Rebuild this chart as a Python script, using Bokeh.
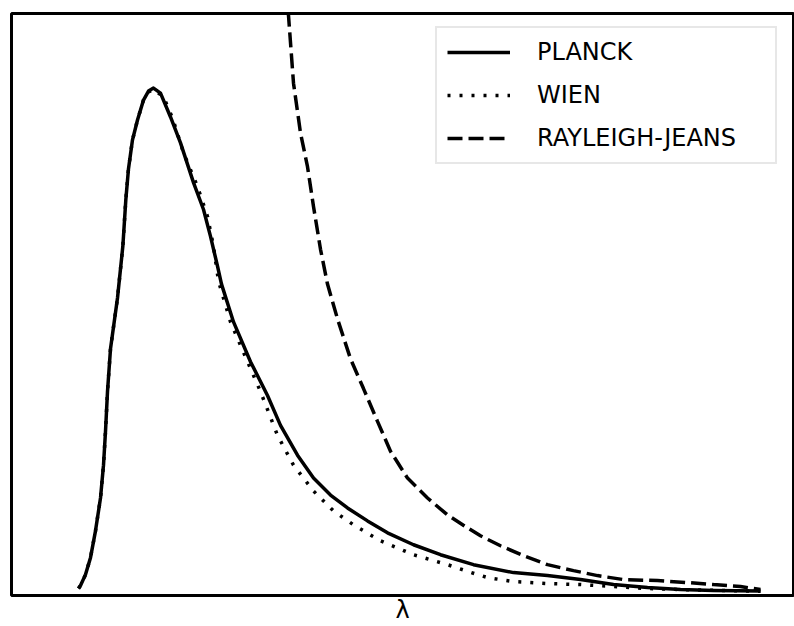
from bokeh.plotting import figure
from bokeh.models import Range1d, Legend, LegendItem, FixedTicker
from bokeh.embed import file_html
from bokeh.resources import INLINE

# wavelength (arbitrary nm-like units) and normalised intensity
planck_x = [201, 207, 222, 237, 252, 267, 276, 282, 288, 297, 318, 334, 343, 351, 363, 378,
            396, 411, 426, 447, 477, 507, 546, 576, 597, 618, 630, 666, 717, 768, 807, 858,
            906, 957, 1008, 1068, 1128, 1206, 1287, 1386, 1506, 1608, 1707, 1806, 1908,
            2007, 2106, 2247]
planck_y = [0.6, 1.2, 3.4, 6.8, 12.2, 18.8, 25.4, 32.2, 40.2, 48.8, 59.0, 69.4, 78.8, 85.0,
            90.8, 94.8, 98.8, 100.6, 101.2, 100.2, 95.4, 90.2, 82.2, 76.8, 71.4, 65.4, 61.8,
            54.2, 46.2, 39.4, 33.4, 27.4, 22.8, 19.4, 16.8, 14.2, 11.8, 9.4, 7.4, 5.4, 3.8,
            3.2, 2.4, 1.4, 0.8, 0.4, 0.2, 0.1]

wien_x = [201, 207, 222, 237, 252, 267, 276, 282, 288, 297, 318, 334, 343, 351, 363, 378,
          396, 411, 426, 456, 483, 516, 558, 588, 606, 621, 657, 708, 747, 798, 846, 906,
          966, 1026, 1107, 1206, 1308, 1398, 1428, 1506, 1608, 1707, 1806, 1908, 2007, 2247]
wien_y = [0.6, 1.2, 3.4, 6.8, 12.2, 18.8, 25.4, 32.2, 40.2, 48.8, 59.0, 69.4, 78.8, 85.0,
          90.8, 94.8, 98.8, 100.4, 101.0, 99.4, 95.2, 88.2, 81.4, 75.4, 69.4, 62.4, 54.2,
          46.2, 40.2, 31.4, 25.4, 20.2, 16.2, 13.4, 10.2, 7.4, 5.4, 3.4, 2.8, 2.0, 1.6, 1.4,
          1.0, 0.6, 0.4, 0.05]

rj_x = [825, 831, 846, 867, 888, 906, 927, 948, 978, 1017, 1056, 1098, 1137, 1188, 1248,
        1308, 1368, 1407, 1467, 1536, 1608, 1686, 1758, 1836, 1938, 2028, 2106, 2187, 2247]
rj_y = [120.8, 115.8, 102.2, 92.2, 85.4, 77.4, 68.8, 61.8, 54.8, 46.8, 40.8, 34.2, 28.2,
        22.8, 18.8, 15.4, 12.8, 11.2, 9.2, 7.2, 5.4, 4.2, 3.2, 2.4, 2.2, 1.8, 1.4, 1.0, 0.4]

labels = ["PLANCK", "WIEN", "RAYLEIGH-JEANS"]
x_label = "λ"

p = figure(width=794, height=626, output_backend="svg", toolbar_location=None,
           x_range=Range1d(0, 2346), y_range=Range1d(-0.8, 116.2),
           y_axis_location=None, min_border_left=11, min_border_right=1,
           min_border_top=13, min_border_bottom=0)
p.grid.visible = False
p.background_fill_color = "white"
p.border_fill_color = "white"
p.outline_line_color = "black"
p.outline_line_width = 3

ax = p.xaxis[0]
ax.ticker = FixedTicker(ticks=[])
ax.major_tick_out = 0
ax.major_tick_in = 0
ax.minor_tick_out = 0
ax.minor_tick_in = 0
ax.major_label_standoff = 0
ax.axis_line_color = None
ax.axis_label = x_label
ax.axis_label_standoff = 0
ax.axis_label_text_font = "DejaVu Sans"
ax.axis_label_text_font_style = "normal"
ax.axis_label_text_font_size = "24px"
ax.axis_label_text_color = "black"

r1 = p.line(planck_x, planck_y, line_color="black", line_width=3.5, line_join="round")
r2 = p.line(wien_x, wien_y, line_color="black", line_width=3.5, line_dash="3 9")
r3 = p.line(rj_x, rj_y, line_color="black", line_width=3.5, line_dash="15 6")

legend = Legend(items=[LegendItem(label=labels[0], renderers=[r1]),
                       LegendItem(label=labels[1], renderers=[r2]),
                       LegendItem(label=labels[2], renderers=[r3])],
                location=(424, 431))
legend.border_line_color = "#d0d0d0"
legend.border_line_width = 2
legend.background_fill_color = "white"
legend.background_fill_alpha = 1.0
legend.label_text_font = "DejaVu Sans"
legend.label_text_font_size = "24px"
legend.label_text_color = "black"
legend.glyph_width = 63
legend.glyph_height = 28
legend.label_height = 28
legend.label_width = 228
legend.label_standoff = 27
legend.spacing = 15
legend.padding = 10
legend.margin = 0
p.add_layout(legend, "center")

open("out.html", "w").write(file_html(p, INLINE))
